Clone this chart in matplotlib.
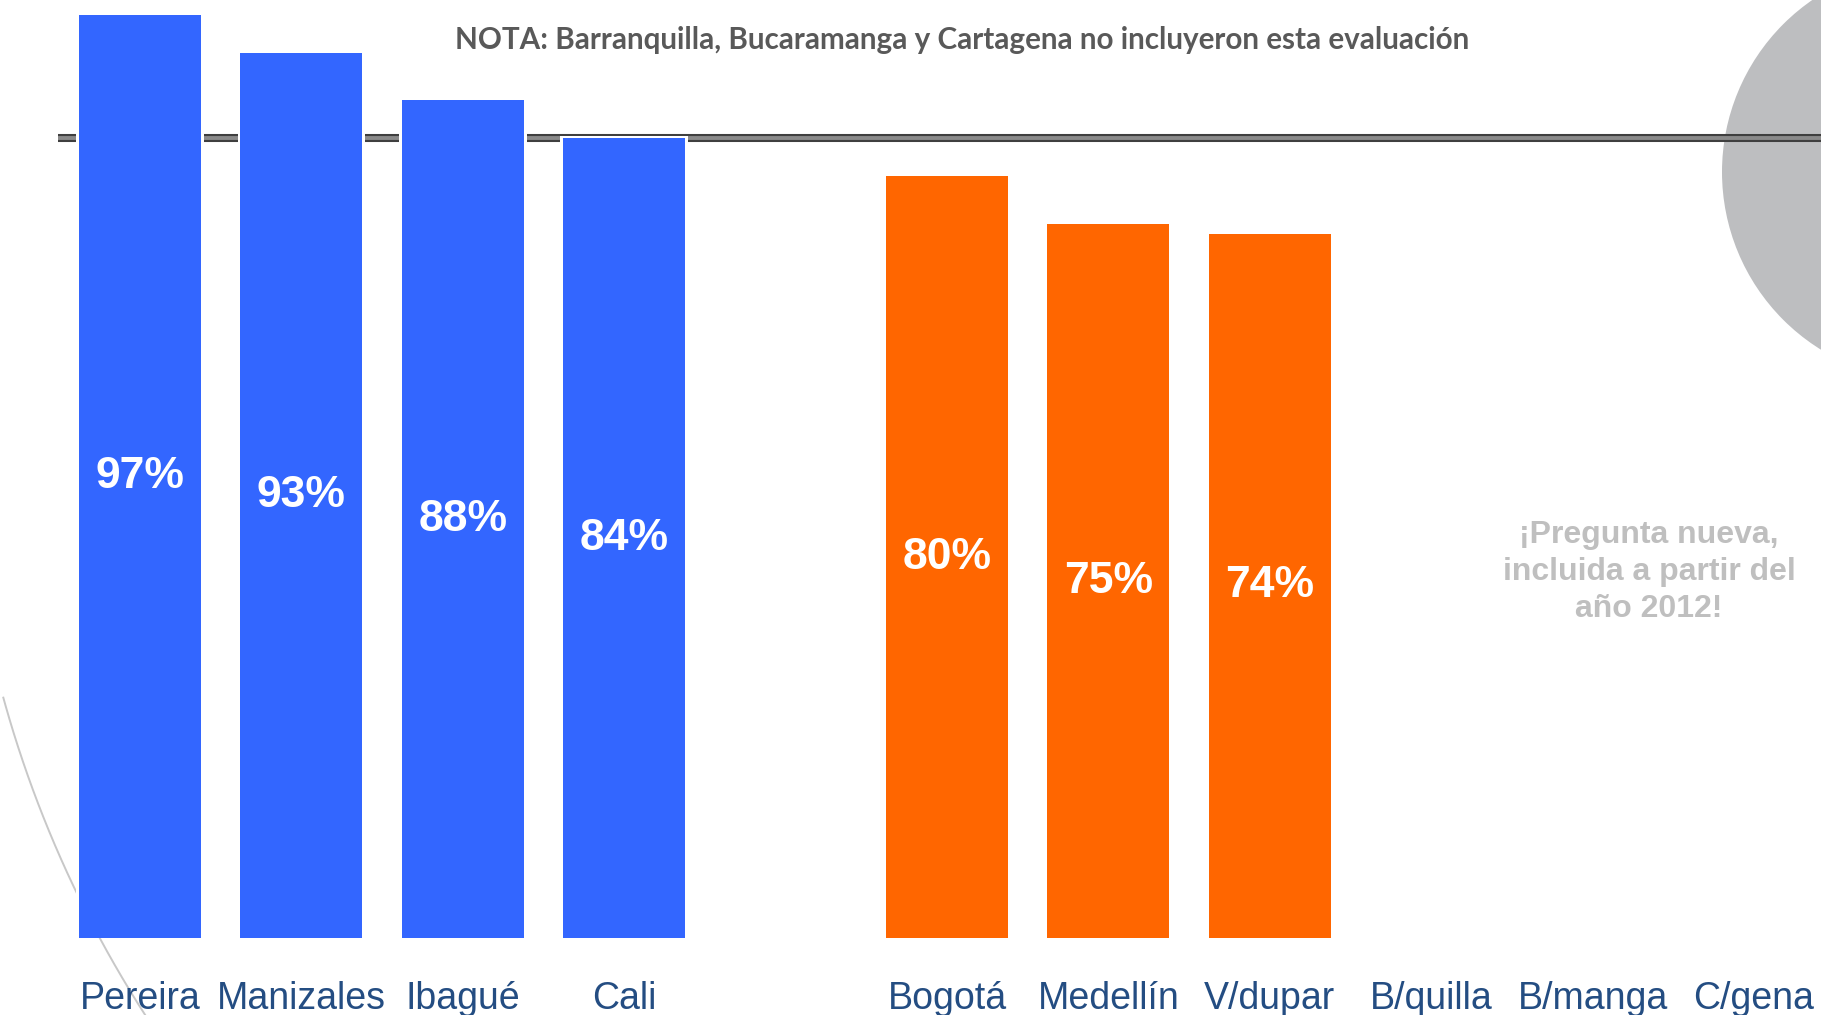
import numpy as np
import matplotlib
matplotlib.use("Agg")
import matplotlib.pyplot as plt
from matplotlib.patches import Circle

# ---- data ----
cities_a = ["Pereira", "Manizales", "Ibagué", "Cali"]
values_a = [97, 93, 88, 84]
cities_b = ["Bogotá", "Medellín", "V/dupar", "B/quilla", "B/manga", "C/gena"]
values_b = [80, 75, 74]          # B/quilla, B/manga, C/gena: no data
reference_value = 84
note_text = "NOTA: Barranquilla, Bucaramanga y Cartagena no incluyeron esta evaluación"
side_text = "¡Pregunta nueva,\nincluida a partir del\naño 2012!"

BLUE = "#3366FF"
ORANGE = "#FF6600"
LABEL_BLUE = "#244D82"

W, H = 1821, 1015
fig = plt.figure(figsize=(W / 100, H / 100), dpi=100)

# decorative background layer in pixel coordinates
bg = fig.add_axes([0, 0, 1, 1], zorder=0)
bg.set_xlim(0, W)
bg.set_ylim(H, 0)
bg.axis("off")
bg.add_patch(Circle((1931, 172), 209, color="#BDBEC0", lw=0))
th = np.radians(np.linspace(140, 164.6, 200))
bg.plot(1113 + 1151 * np.cos(th), 392 + 1151 * np.sin(th), color="#C8C8C8", lw=1.4)

# main chart
ax = fig.add_axes([0, 0.0755, 1, 0.9245], zorder=1)
ax.patch.set_alpha(0)
ax.set_xlim(-0.867, 10.415)
ax.set_ylim(0, 98.53)
ax.axis("off")

pos_a = np.arange(len(cities_a))
pos_b = np.arange(len(cities_b)) + len(cities_a) + 1

# reference line (double line look)
ax.plot([-0.508, 10.415], [reference_value] * 2, color="#3F3F3F", lw=5.8,
        solid_capstyle="butt", zorder=2)
ax.plot([-0.508, 10.415], [reference_value] * 2, color="#8A8A8A", lw=2.8,
        solid_capstyle="butt", zorder=2.1)

bw = 0.755
halo = 0.035
all_pos = list(pos_a) + list(pos_b[:len(values_b)])
all_val = list(values_a) + list(values_b)
all_col = [BLUE] * len(values_a) + [ORANGE] * len(values_b)
# white halo behind each bar (gap in the reference line)
ax.bar(all_pos, [v + 0.3 for v in all_val], width=bw + halo, color="white",
       lw=0, zorder=2.5)
ax.bar(all_pos, all_val, width=bw, color=all_col, lw=0, zorder=3)

for p, v in zip(all_pos, all_val):
    ax.text(p, v / 2, f"{v}%", ha="center", va="center", color="white",
            fontsize=32, fontweight="bold", family="Liberation Sans", zorder=4)

for p, c in list(zip(pos_a, cities_a)) + list(zip(pos_b, cities_b)):
    ax.text(p, -7.4, c, ha="center", va="baseline", color=LABEL_BLUE,
            fontsize=27, family="Liberation Sans", clip_on=False)

# note at top
note = fig.text(962 / W, 1 - 40 / H, note_text, ha="center", va="center",
                color="#595959", fontweight="bold", family="Lato", fontsize=22)
fig.canvas.draw()
wpx = note.get_window_extent().width
note.set_fontsize(22 * 1014 / wpx)

fig.text(1649 / W, 1 - 572 / H, side_text, ha="center", va="center",
         color="#BFBFBF", fontweight="bold", family="Liberation Sans",
         fontsize=23, linespacing=1.32)

fig.savefig("out.png", dpi=100)
